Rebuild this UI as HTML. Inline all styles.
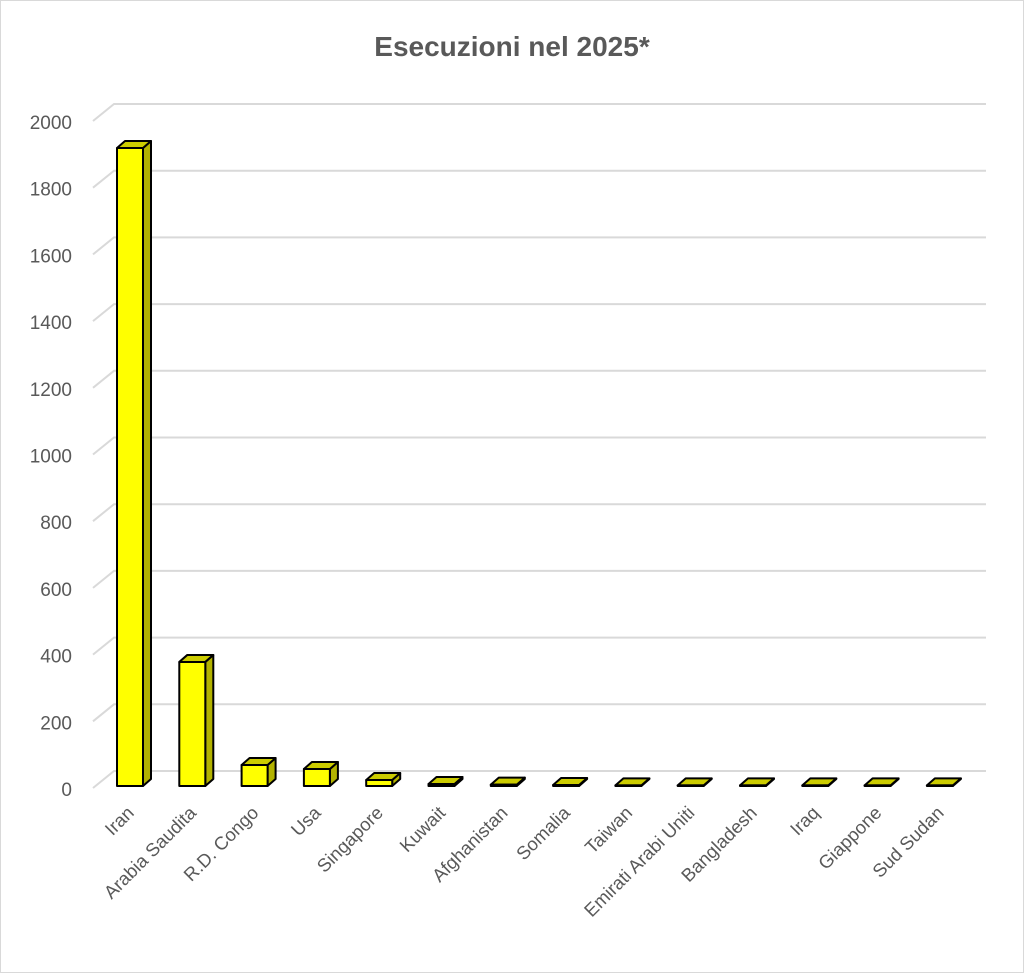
<!DOCTYPE html>
<html><head><style>
body{margin:0;background:#fff}
svg{display:block}
text{font-family:"Liberation Sans","DejaVu Sans",sans-serif;fill:#595959}
</style></head><body>
<svg width="1024" height="973" viewBox="0 0 1024 973" xmlns="http://www.w3.org/2000/svg">
<rect x="0.5" y="0.5" width="1023" height="972" fill="#fff" stroke="#d9d9d9"/>
<text x="512" y="56" text-anchor="middle" font-size="28" font-weight="bold">Esecuzioni nel 2025*</text>
<g stroke="#d9d9d9" stroke-width="2" fill="none" id="grid"></g>
<g font-size="19" text-anchor="end" id="ylab"></g>
<g id="bars" stroke="#000" stroke-width="2" stroke-linejoin="round"></g>
<g font-size="18.5" text-anchor="end" id="xlab"></g>
</svg>
<script>
const ns="http://www.w3.org/2000/svg";
function el(p,t,a,txt){const e=document.createElementNS(ns,t);for(const k in a)e.setAttribute(k,a[k]);if(txt!=null)e.textContent=txt;document.getElementById(p).appendChild(e);return e;}
const y0=788,k=(788-121)/2000,dx=21,dy=-17;
for(let v=0;v<=2000;v+=200){const y=y0-v*k;
el("grid","polyline",{points:`93,${y} ${93+dx},${y+dy} 986,${y+dy}`});
el("ylab","text",{x:72,y:y+8},String(v));}
const names=["Iran","Arabia Saudita","R.D. Congo","Usa","Singapore","Kuwait","Afghanistan","Somalia","Taiwan","Emirati Arabi Uniti","Bangladesh","Iraq","Giappone","Sud Sudan"];
const vals=[1913,372,63,51,18,6,4,3,2,2,2,2,2,2];
const w=26,ddx=8,ddy=-7,base=786;
names.forEach((n,i)=>{const c=130+i*62.3,x=c-w/2,h=vals[i]*k,t=base-h;
el("bars","polygon",{points:`${x+w},${base} ${x+w+ddx},${base+ddy} ${x+w+ddx},${t+ddy} ${x+w},${t}`,fill:"#b3b300"});
el("bars","polygon",{points:`${x},${t} ${x+ddx},${t+ddy} ${x+w+ddx},${t+ddy} ${x+w},${t}`,fill:"#cccc00"});
el("bars","rect",{x:x,y:t,width:w,height:Math.max(h,0.5),fill:"#ffff00"});
el("xlab","text",{x:c+5,y:814,transform:`rotate(-45 ${c+5} 814)`},n);});
</script>
</body></html>
